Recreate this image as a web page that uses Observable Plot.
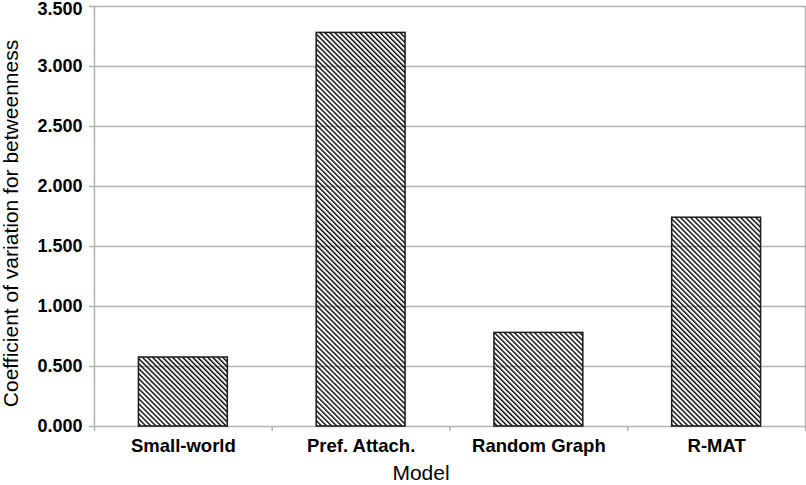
<!DOCTYPE html>
<html><head><meta charset="utf-8">
<script src="https://cdn.jsdelivr.net/npm/d3@7"></script>
<script src="https://cdn.jsdelivr.net/npm/@observablehq/plot@0.6"></script>
<style>body{margin:0;background:#fff} svg{display:block}</style>
</head><body><div id="chart"></div>
<script>
const models = ["Small-world", "Pref. Attach.", "Random Graph", "R-MAT"];
const values = [0.575, 3.28, 0.78, 1.74];
const yTicks = [0, 0.5, 1, 1.5, 2, 2.5, 3, 3.5];
const xLabel = "Model";
const yLabel = "Coefficient of variation for betweenness";

const data = models.map((m, i) => ({model: m, value: values[i], i}));
const boundaries = d3.range(models.length + 1);
const gray = "#b3b3b3";
const fmt = d3.format(".3f");
const yTop = yTicks[yTicks.length - 1];

const plot = Plot.plot({
  width: 806, height: 485,
  marginLeft: 94, marginRight: 1, marginTop: 6, marginBottom: 59,
  style: {fontFamily: "'Liberation Sans', Arial, sans-serif", background: "#fff", color: "#000"},
  x: {domain: [0, models.length], axis: null},
  y: {domain: [0, yTop], axis: null},
  marks: [
    Plot.gridY(yTicks, {stroke: gray, strokeOpacity: 1, strokeWidth: 1.5}),
    Plot.ruleX([0, models.length], {stroke: gray, strokeWidth: 1.5}),
    Plot.rectY(data, {x1: d => d.i + 0.25, x2: d => d.i + 0.75, y: "value",
      fill: "url(#hatch)", stroke: "#1a1a1a", strokeWidth: 1.5}),
    Plot.axisY(yTicks, {tickFormat: v => v === yTop ? "" : fmt(v), tickSize: 5, tickPadding: 7,
      stroke: gray, strokeWidth: 1.5, fill: "#000", fontSize: 18, fontWeight: "bold", label: null}),
    Plot.axisY([yTop], {tickFormat: fmt, tickSize: 0, tickPadding: 12, dy: 3,
      stroke: "none", fill: "#000", fontSize: 18, fontWeight: "bold", label: null}),
    Plot.axisX(boundaries, {tickFormat: () => "", tickSize: 5, stroke: gray, strokeWidth: 1.5, label: null}),
    Plot.text(data, {x: d => d.i + 0.5, frameAnchor: "bottom", lineAnchor: "middle", dy: 20, text: "model",
      fontSize: 18.5, fontWeight: "bold", fill: "#000"}),
    Plot.text([xLabel], {frameAnchor: "bottom", textAnchor: "middle", lineAnchor: "middle", dx: -29, dy: 47,
      text: d => d, fontSize: 21, fill: "#000"}),
    Plot.text([yLabel], {frameAnchor: "left", textAnchor: "middle", lineAnchor: "middle", dx: -83, dy: 7,
      rotate: -90, text: d => d, fontSize: 21, fill: "#000"})
  ]
});

const defs = d3.select(plot).insert("defs", ":first-child");
const pat = defs.append("pattern")
  .attr("id", "hatch")
  .attr("patternUnits", "userSpaceOnUse")
  .attr("width", 3.55).attr("height", 3.55)
  .attr("patternTransform", "rotate(-45)");
pat.append("rect").attr("x", 0).attr("y", 0).attr("width", 1.4).attr("height", 3.55).attr("fill", "#000");

document.getElementById("chart").appendChild(plot);
</script>
</body></html>
